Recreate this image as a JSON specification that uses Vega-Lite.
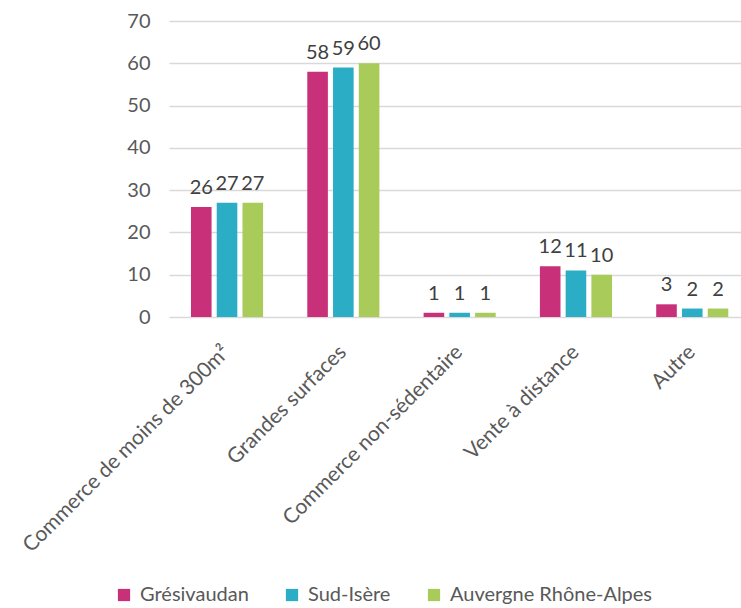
{
  "$schema": "https://vega.github.io/schema/vega-lite/v6.json",
  "width": 572,
  "height": 296,
  "autosize": "none",
  "padding": {"left": 169, "top": 21, "right": 0, "bottom": 291},
  "background": "white",
  "config": {
    "view": {"stroke": null},
    "font": "Lato",
    "axis": {"labelFont": "Lato", "labelColor": "#595959", "titleColor": "#595959"}
  },
  "data": {
    "values": [
      {"cat": "Commerce de moins de 300m²", "zone": "Grésivaudan", "v": 26},
      {"cat": "Commerce de moins de 300m²", "zone": "Sud-Isère", "v": 27},
      {"cat": "Commerce de moins de 300m²", "zone": "Auvergne Rhône-Alpes", "v": 27},
      {"cat": "Grandes surfaces", "zone": "Grésivaudan", "v": 58},
      {"cat": "Grandes surfaces", "zone": "Sud-Isère", "v": 59},
      {"cat": "Grandes surfaces", "zone": "Auvergne Rhône-Alpes", "v": 60},
      {"cat": "Commerce non-sédentaire", "zone": "Grésivaudan", "v": 1},
      {"cat": "Commerce non-sédentaire", "zone": "Sud-Isère", "v": 1},
      {"cat": "Commerce non-sédentaire", "zone": "Auvergne Rhône-Alpes", "v": 1},
      {"cat": "Vente à distance", "zone": "Grésivaudan", "v": 12},
      {"cat": "Vente à distance", "zone": "Sud-Isère", "v": 11},
      {"cat": "Vente à distance", "zone": "Auvergne Rhône-Alpes", "v": 10},
      {"cat": "Autre", "zone": "Grésivaudan", "v": 3},
      {"cat": "Autre", "zone": "Sud-Isère", "v": 2},
      {"cat": "Autre", "zone": "Auvergne Rhône-Alpes", "v": 2}
    ]
  },
  "encoding": {
    "x": {
      "field": "cat", "type": "nominal", "sort": null,
      "scale": {"paddingInner": 0.38, "paddingOuter": 0.149, "align": 0.634},
      "axis": {"title": null, "labelAngle": -45, "labelFontSize": 21, "labelPadding": 24, "labelOffset": -8, "ticks": false, "domain": false, "grid": false, "labelLimit": 400}
    },
    "xOffset": {
      "field": "zone", "type": "nominal", "sort": ["Grésivaudan", "Sud-Isère", "Auvergne Rhône-Alpes"],
      "scale": {"paddingInner": 0.2, "paddingOuter": 0}
    },
    "y": {
      "field": "v", "type": "quantitative",
      "scale": {"domain": [0, 70], "nice": false},
      "axis": {"title": null, "values": [0,10,20,30,40,50,60,70], "labelFontSize": 20, "labelPadding": 19, "ticks": false, "domain": false, "gridColor": "#d9d9d9", "gridWidth": 1.5}
    }
  },
  "layer": [
    {
      "mark": {"type": "bar"},
      "encoding": {
        "color": {
          "field": "zone", "type": "nominal",
          "sort": ["Grésivaudan", "Sud-Isère", "Auvergne Rhône-Alpes"],
          "scale": {"domain": ["Grésivaudan", "Sud-Isère", "Auvergne Rhône-Alpes"], "range": ["#C8317A", "#2BADC6", "#A8CB5A"]},
          "legend": {
            "title": null, "orient": "none", "direction": "horizontal",
            "legendX": -55, "legendY": 564,
            "symbolType": "square", "symbolSize": 150, "symbolStrokeWidth": 0,
            "labelFontSize": 20, "labelColor": "#595959", "labelFont": "Lato",
            "labelLimit": 400,
            "columnPadding": 33, "labelOffset": 6
          }
        }
      }
    },
    {
      "mark": {"type": "text", "baseline": "alphabetic", "dy": -13, "fontSize": 20, "color": "#404040", "font": "Lato"},
      "encoding": {
        "text": {"field": "v", "type": "quantitative"}
      }
    }
  ]
}
